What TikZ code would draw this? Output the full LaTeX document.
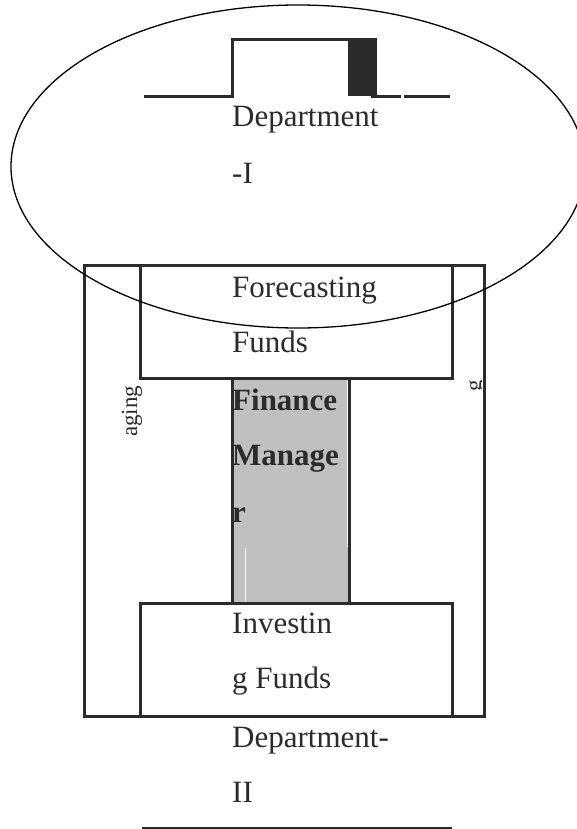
\documentclass[tikz,border=0pt]{standalone}
\usepackage{fontspec}
\setmainfont{Liberation Serif}
\usepackage{tikz}
\definecolor{ink}{HTML}{2B2B2B}
\definecolor{mgray}{HTML}{C0C0C0}
\tikzset{
	box/.style={draw=ink,line width=3pt,inner sep=0pt},
	txt/.style={anchor=base west,inner sep=0pt,text=ink,font=\fontsize{31}{36}\selectfont},
	btxt/.style={txt,font=\fontsize{31}{36}\selectfont\bfseries},
	vtxt/.style={anchor=base west,inner sep=0pt,rotate=90,text=ink,font=\fontsize{23}{27}\selectfont}
}

\begin{document}
\begin{tikzpicture}[x=1pt,y=-1pt]
						\useasboundingbox (0,0) rectangle (577,829);
						\node [box,minimum width=400pt,minimum height=451pt] (outer) at (284,490.5) {};
						\node [box,fill=mgray,minimum width=117.5pt,minimum height=225pt] (manager) at (290.75,490.5) {};
						\node [box,minimum width=312pt,minimum height=113pt] (forecast) at (296,321.5) {};
						\node [box,minimum width=312pt,minimum height=113pt] (invest) at (296,659.5) {};
						\draw [white,line width=0.8pt] (245,548) -- (245,601.5);
						\draw [white,line width=0.6pt] (347.3,380) -- (347.3,547);
						
						\draw [ink,line width=3pt] (144,97) -- (232,97) -- (232,40) -- (377,40);
						\fill [ink] (348,38.5) rectangle (377,96);
						\draw [ink,line width=3pt] (371,97) -- (401,97);
						\draw [ink,line width=3pt] (404,97) -- (450,97);
						\draw [black,line width=1.3pt] (298,166.5) ellipse [x radius=287pt,y radius=161.5pt];
						\draw [ink,line width=2pt] (142,828) -- (452,828);
						
						\node [txt] (deptIa) at (232,127) {Department};
						\node [txt] (deptIb) at (232,183) {-I};
						\node [txt] (forecastA) at (232,297) {Forecasting};
						\node [txt] (forecastB) at (232,352) {Funds};
						\node [btxt] (managerA) at (232,410) {Finance};
						\node [btxt] (managerB) at (232,465) {Manage};
						\node [btxt] (managerC) at (232,522) {r};
						\node [txt] (investA) at (232,633) {Investin};
						\node [txt] (investB) at (232,688) {g Funds};
						\node [txt] (deptIIa) at (232,747) {Department-};
						\node [txt] (deptIIb) at (232,802) {II};
						\node [vtxt] (sideL) at (137,437) {aging};
						\begin{scope}
							\clip (455,370) rectangle (481.5,400);
							\node [vtxt] (sideR) at (481,392) {g};
						\end{scope}
;					\end{tikzpicture}
\end{document}
